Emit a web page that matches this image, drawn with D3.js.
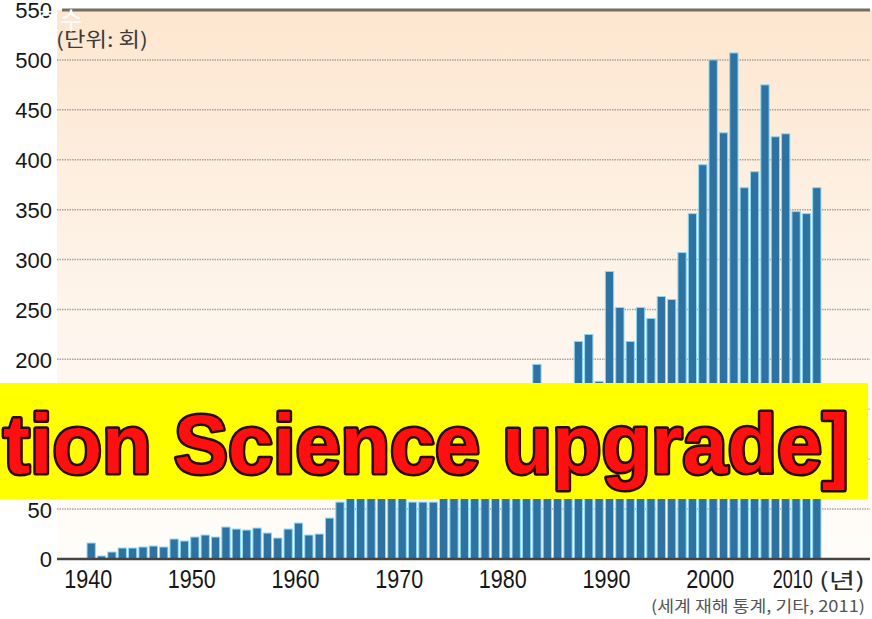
<!DOCTYPE html>
<html>
   <head>
      <meta charset = "UTF-8">
      <style>
         body { margin: 0; background: #ffffff; }
         svg { display: block; }
         .tick-label { font-family: "Liberation Sans", Arial, sans-serif; fill: #161616; }
         .kor { font-family: "Noto Sans CJK KR", sans-serif; }
         .banner { font-family: "Liberation Sans", Arial, sans-serif; font-weight: bold; }
      </style>
      <script src = "https://d3js.org/d3.v7.min.js"></script>
      <title> 세계 재해 발생 횟수 </title>
   </head>

   <body>
      <svg width = "872" height = "619"></svg>

      <script>

         // 연도별 재해 발생 횟수 (그림에서 읽은 값, 띠에 가려진 부분은 추정)
         var years = d3.range(1940, 2011);
         var disasters = [
            16, 3, 7, 11, 11, 12, 13, 12, 20, 18,
            22, 24, 22, 32, 30, 29, 31, 26, 21, 30,
            36, 24, 25, 41, 57, 68, 72, 75, 80, 78,
            85, 57, 57, 57, 70, 78, 88, 98, 110, 120,
            130, 140, 150, 195, 140, 160, 170, 218, 225, 178,
            288, 252, 218, 252, 241, 263, 260, 307, 346, 395,
            500, 427, 507, 372, 388, 475, 423, 426, 348, 346,
            372
         ];
         var yTicks = [0, 50, 100, 150, 200, 250, 300, 350, 400, 450, 500, 550];
         var xTicks = [1940, 1950, 1960, 1970, 1980, 1990, 2000, 2010];

         var unitText = "(단위: 회)";
         var yearText = "(년)";
         var sourceText = "(세계 재해 통계, 기타, 2011)";
         var bannerText = "tion Science upgrade]";

         var svg = d3.select("svg");

         var x = d3.scaleBand()
            .domain(years)
            .range([86, 822])
            .paddingInner(0.2)
            .paddingOuter(0.1);

         var y = d3.scaleLinear()
            .domain([0, 550])
            .range([559, 10]);

         // 배경 그라데이션
         var defs = svg.append("defs");
         var grad = defs.append("linearGradient")
            .attr("id", "bg").attr("x1", 0).attr("y1", 0).attr("x2", 0).attr("y2", 1);
         grad.append("stop").attr("offset", "0%").attr("stop-color", "#fde6cf");
         grad.append("stop").attr("offset", "55%").attr("stop-color", "#fef5ec");
         grad.append("stop").attr("offset", "100%").attr("stop-color", "#fffdfa");

         svg.append("rect")
            .attr("x", 57).attr("y", y(550))
            .attr("width", 815).attr("height", y(0) - y(550))
            .attr("fill", "url(#bg)");

         // 점선 격자
         svg.append("g")
            .selectAll("line")
            .data(yTicks.filter(function(d) { return d > 0 && d < 550; }))
            .enter()
            .append("line")
            .attr("x1", 57).attr("x2", 870)
            .attr("y1", function(d) { return y(d); })
            .attr("y2", function(d) { return y(d); })
            .attr("stroke", "#aaa39b")
            .attr("stroke-width", 1.5)
            .attr("stroke-dasharray", "1.5,1");

         // 위쪽 굵은 선
         svg.append("line")
            .attr("x1", 62).attr("x2", 870)
            .attr("y1", y(550)).attr("y2", y(550))
            .attr("stroke", "#736e64")
            .attr("stroke-width", 3);

         // 막대
         svg.append("g")
            .selectAll("rect")
            .data(years)
            .enter()
            .append("rect")
            .attr("x", function(d) { return x(d); })
            .attr("y", function(d, i) { return y(disasters[i]); })
            .attr("width", x.bandwidth())
            .attr("height", function(d, i) { return y(0) - y(disasters[i]); })
            .attr("fill", "#2e72a1")
            .attr("stroke", "#8fd9f2")
            .attr("stroke-width", 1);

         // 기준선
         svg.append("line")
            .attr("x1", 57).attr("x2", 870)
            .attr("y1", y(0)).attr("y2", y(0))
            .attr("stroke", "#444444")
            .attr("stroke-width", 2.5);

         // y축 눈금
         var yAxis = svg.append("g")
            .attr("transform", "translate(52,0)")
            .call(d3.axisLeft(y).tickValues(yTicks).tickSize(0).tickPadding(0));
         yAxis.select(".domain").remove();
         yAxis.selectAll("text")
            .attr("class", "tick-label")
            .attr("font-size", "22px")
            .attr("dy", "0.36em");

         // x축 눈금
         var xAxis = svg.append("g")
            .attr("transform", "translate(-3," + 588 + ")")
            .call(d3.axisBottom(x).tickValues(xTicks).tickSize(0).tickPadding(0));
         xAxis.select(".domain").remove();
         xAxis.selectAll("text")
            .attr("class", "tick-label")
            .attr("font-size", "25px")
            .attr("dy", 0)
            .attr("textLength", function(d) { return d === 2010 ? 40 : 48; })
            .attr("lengthAdjust", "spacingAndGlyphs")
            .attr("dx", function(d) { return d === 2010 ? -21 : 0; });

         svg.append("text")
            .attr("class", "kor")
            .attr("x", 819).attr("y", 588)
            .attr("font-size", "21px")
            .attr("fill", "#2a2a2a")
            .attr("textLength", 46)
            .attr("lengthAdjust", "spacingAndGlyphs")
            .text(yearText);

         // 단위, 출처
         svg.append("text")
            .attr("class", "kor")
            .attr("x", 56).attr("y", 47)
            .attr("font-size", "20px")
            .attr("fill", "#3c3c3c")
            .attr("textLength", 92)
            .attr("lengthAdjust", "spacingAndGlyphs")
            .text(unitText);

         svg.append("text")
            .attr("class", "kor")
            .attr("x", 38).attr("y", 29)
            .attr("font-size", "24px")
            .attr("fill", "#ffffff")
            .text("횟수");

         svg.append("text")
            .attr("class", "kor")
            .attr("x", 865).attr("y", 612)
            .attr("text-anchor", "end")
            .attr("font-size", "16px")
            .attr("fill", "#555555")
            .attr("textLength", 214)
            .attr("lengthAdjust", "spacingAndGlyphs")
            .text(sourceText);

         // 노란 띠
         svg.append("rect")
            .attr("x", 0).attr("y", 383)
            .attr("width", 868).attr("height", 116)
            .attr("fill", "#ffff00");

         svg.append("text")
            .attr("class", "banner")
            .attr("x", 3).attr("y", 473)
            .attr("font-size", "84px")
            .attr("textLength", 846)
            .attr("lengthAdjust", "spacingAndGlyphs")
            .attr("fill", "#ff1010")
            .attr("stroke", "#2a0606")
            .attr("stroke-width", 5)
            .attr("stroke-linejoin", "round")
            .attr("paint-order", "stroke")
            .text(bannerText);
      </script>
   </body>
</html>
